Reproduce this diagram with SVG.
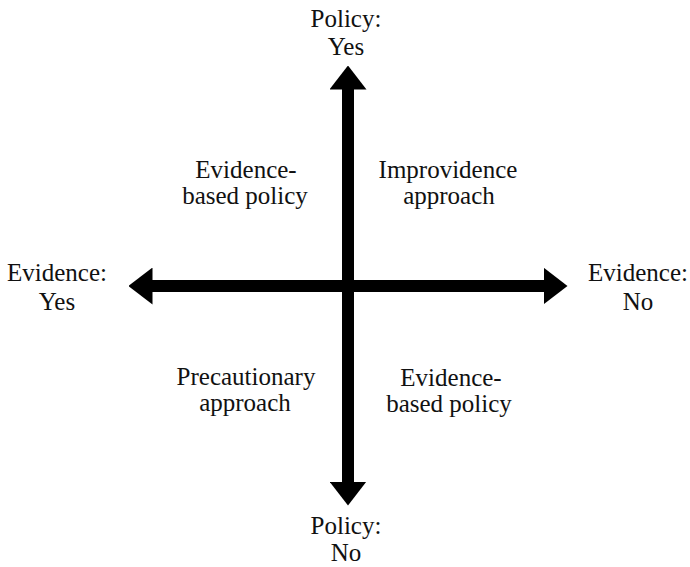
<svg xmlns="http://www.w3.org/2000/svg" width="690" height="567" viewBox="0 0 690 567">
  <style>
    .t { font-family: 'Liberation Serif', 'Times New Roman', Times, 'DejaVu Serif', serif; font-size: 25px; fill: #111; text-anchor: middle; }
    .axis { stroke: #000; stroke-width: 12; fill: none; }
  </style>
  <defs>
    <marker id="head" viewBox="0 0 24 37" refX="0.5" refY="18.5" markerWidth="24" markerHeight="37" markerUnits="userSpaceOnUse" orient="auto-start-reverse">
      <path d="M0,0 L24,18.5 L0,37 Z" fill="#000"/>
    </marker>
  </defs>
  <rect width="690" height="567" fill="#fff"/>
  <g id="connectors">
    <line class="axis" x1="348" y1="89" x2="348" y2="482" marker-start="url(#head)" marker-end="url(#head)"/>
    <line class="axis" x1="152" y1="286" x2="544" y2="286" marker-start="url(#head)" marker-end="url(#head)"/>
  </g>
  <g class="t" font-family="'Liberation Serif', 'Times New Roman', serif">
    <g id="policy-yes">
      <text x="346" y="27">Policy:</text>
      <text x="346" y="55">Yes</text>
    </g>
    <g id="policy-no">
      <text x="346" y="534">Policy:</text>
      <text x="346" y="561">No</text>
    </g>
    <g id="evidence-yes">
      <text x="57" y="281">Evidence:</text>
      <text x="57" y="310">Yes</text>
    </g>
    <g id="evidence-no">
      <text x="638" y="281">Evidence:</text>
      <text x="638" y="310">No</text>
    </g>
    <g id="q-top-left">
      <text x="246" y="178">Evidence-</text>
      <text x="245" y="204">based policy</text>
    </g>
    <g id="q-top-right">
      <text x="448" y="178">Improvidence</text>
      <text x="449" y="204">approach</text>
    </g>
    <g id="q-bottom-left">
      <text x="246" y="385">Precautionary</text>
      <text x="245" y="411">approach</text>
    </g>
    <g id="q-bottom-right">
      <text x="451" y="386">Evidence-</text>
      <text x="449" y="412">based policy</text>
    </g>
  </g>
</svg>
